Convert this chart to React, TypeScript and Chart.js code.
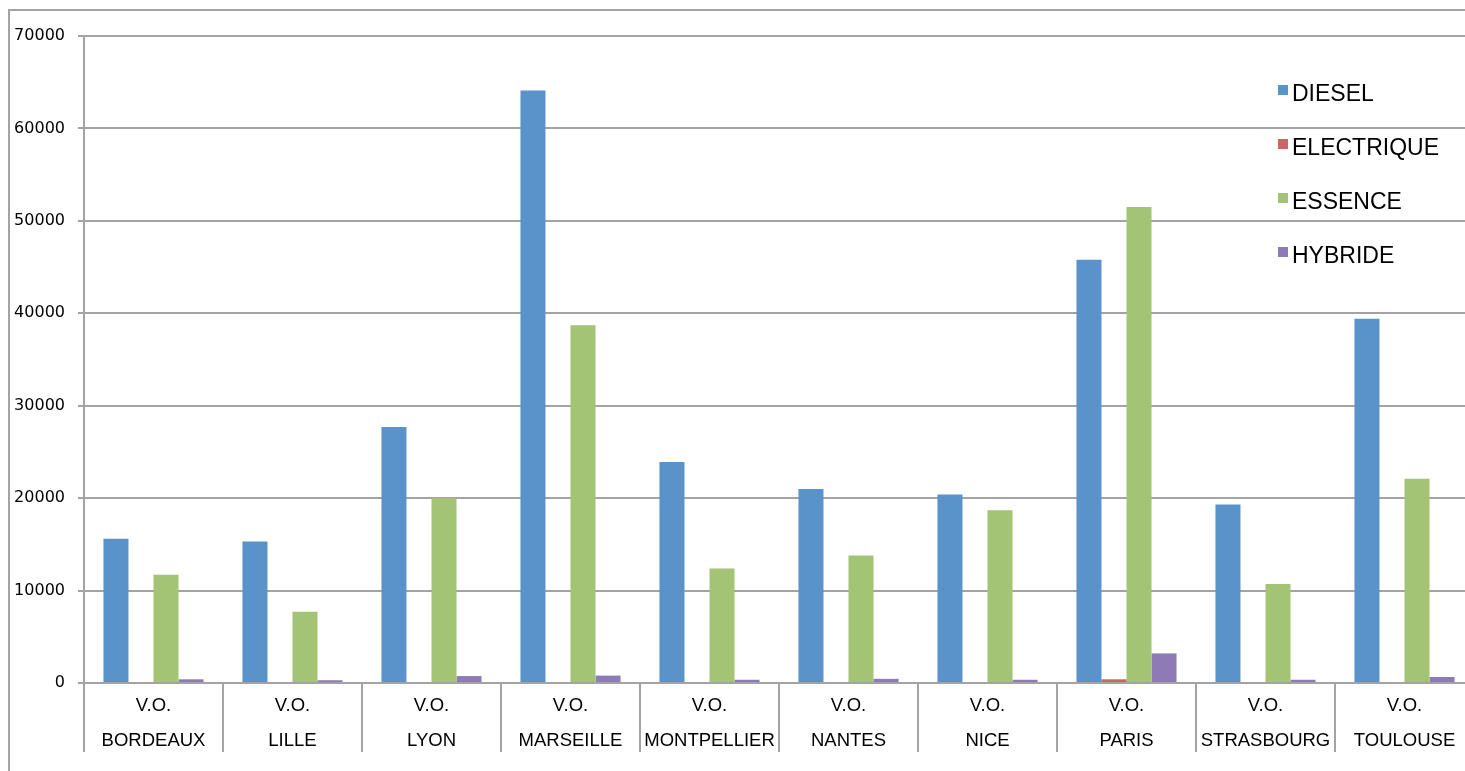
import React, { useEffect, useRef } from "react";
import { Chart, registerables } from "chart.js";

Chart.register(...registerables);

const cities = ["BORDEAUX", "LILLE", "LYON", "MARSEILLE", "MONTPELLIER", "NANTES", "NICE", "PARIS", "STRASBOURG", "TOULOUSE"];
const subLabel = "V.O.";
const diesel = [15600, 15300, 27700, 64100, 23900, 21000, 20400, 45800, 19300, 39400];
const electrique = [0, 0, 0, 0, 0, 0, 0, 400, 0, 0];
const essence = [11700, 7700, 20000, 38700, 12400, 13800, 18700, 51500, 10700, 22100];
const hybride = [400, 300, 750, 800, 350, 450, 350, 3200, 350, 650];
const yTicks = [0, 10000, 20000, 30000, 40000, 50000, 60000, 70000];

const GRID = "#a3a3a3";

const legendPlugin = {
  id: "customLegend",
  afterDraw(chart: any) {
    const ctx = chart.ctx;
    ctx.save();
    ctx.font = "23px 'Liberation Sans', Arial, sans-serif";
    ctx.textBaseline = "middle";
    ctx.textAlign = "left";
    chart.data.datasets.forEach((ds: any, i: number) => {
      const cy = 94.5 + i * 54;
      ctx.fillStyle = ds.backgroundColor;
      ctx.fillRect(1278, cy - 9.5, 10, 10);
      ctx.fillStyle = "#000";
      ctx.fillText(ds.label, 1292, cy);
    });
    ctx.restore();
  },
};

export default function App() {
  const ref = useRef<HTMLCanvasElement>(null);
  useEffect(() => {
    document.body.style.margin = "0";
    document.body.style.overflow = "hidden";
    const chart = new Chart(ref.current!, {
      type: "bar",
      data: {
        labels: cities.map((c) => [subLabel, c]),
        datasets: [
          { label: "DIESEL", data: diesel, backgroundColor: "#5a93c9" },
          { label: "ELECTRIQUE", data: electrique, backgroundColor: "#c9665f" },
          { label: "ESSENCE", data: essence, backgroundColor: "#a2c474" },
          { label: "HYBRIDE", data: hybride, backgroundColor: "#8c7bb5" },
        ],
      },
      options: {
        responsive: false,
        animation: false,
        events: [],
        layout: { padding: { left: 0, right: 6, top: 36, bottom: 0 } },
        plugins: { legend: { display: false }, tooltip: { enabled: false } },
        datasets: { bar: { categoryPercentage: 0.72, barPercentage: 1 } },
        scales: {
          x: {
            offset: true,
            grid: { display: true, drawOnChartArea: false, offset: true, color: GRID, lineWidth: 2, tickLength: 69 },
            border: { display: true, color: GRID, width: 2 },
            ticks: {
              autoSkip: false,
              maxRotation: 0,
              minRotation: 0,
              color: "#000",
              padding: -64,
              font: { family: "'Liberation Sans', Arial, sans-serif", size: 18.5, lineHeight: "35px" },
            },
            afterFit: (s: any) => { s.height = 88; },
          },
          y: {
            min: 0,
            max: 70000,
            afterBuildTicks: (s: any) => { s.ticks = yTicks.map((v) => ({ value: v })); },
            grid: { color: GRID, lineWidth: 2, tickLength: 6 },
            border: { display: true, color: GRID, width: 2 },
            ticks: {
              color: "#000",
              padding: 13,
              font: { family: "'DejaVu Sans', sans-serif", size: 16 },
              callback: (v: any) => String(v),
            },
            afterFit: (s: any) => { s.width = 84; },
          },
        },
      },
      plugins: [legendPlugin],
    });
    return () => chart.destroy();
  }, []);
  return (
    <div style={{ position: "relative", width: 1465, height: 771, overflow: "hidden", background: "#fff" }}>
      <canvas ref={ref} width={1480} height={771} style={{ position: "absolute", left: 0, top: 0, width: 1480, height: 771 }} />
      <div style={{ position: "absolute", left: 8, top: 9, width: 2, height: 762, background: GRID }} />
      <div style={{ position: "absolute", left: 8, top: 9, width: 1457, height: 2, background: GRID }} />
    </div>
  );
}
